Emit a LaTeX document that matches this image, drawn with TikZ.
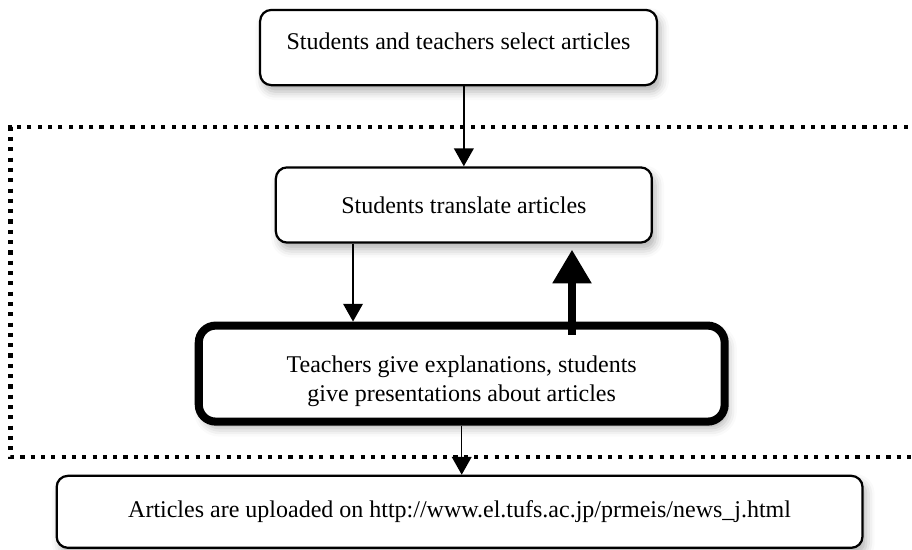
\documentclass[tikz,border=0pt]{standalone}
\usepackage{fontspec}
\setmainfont{Liberation Serif}
\usetikzlibrary{arrows.meta, positioning, shadows.blur}
\tikzstyle{stage} = [rectangle, rounded corners=6pt, draw=black, line width=1.2pt, fill=white, align=center, font=\fontsize{12.8}{15}\selectfont, blur shadow={shadow xshift=2pt, shadow yshift=-3.5pt, shadow blur radius=4.5pt, shadow opacity=30}]
\tikzstyle{keystage} = [stage, rounded corners=9pt, line width=4.3pt]
\tikzstyle{flow} = [line width=0.8pt, -{Triangle[width=10.5pt,length=9.5pt]}]
\tikzstyle{bigflow} = [line width=4.7pt, -{Triangle[width=19.7pt,length=18pt]}]
\tikzstyle{frame} = [line width=2.2pt, dash pattern=on 2.2pt off 3.3pt]

\begin{document}
\begin{tikzpicture}
      \useasboundingbox (0,0) rectangle (17.1,-10.294);
      % loop region
      \draw [frame] (17.6,-2.381) -- (0.197,-2.381) -- (0.197,-8.569) -- (17.6,-8.569);

      \node (select) [stage, minimum width=7.44cm, minimum height=1.41cm, text depth=7pt] at (8.597,-0.891) {Students and teachers select articles};
      \node (translate) [stage, below=1.50cm of select, xshift=0.10cm, minimum width=7.05cm, minimum height=1.41cm] {Students translate articles};
      \node (explain) [keystage, below=1.46cm of translate, xshift=-0.04cm, minimum width=9.86cm, minimum height=1.80cm] {\rule{0pt}{17pt}Teachers give explanations, students\\give presentations about articles};
      \node (upload) [stage, below=0.92cm of explain, xshift=-0.04cm, minimum width=15.11cm, minimum height=1.35cm] {Articles are uploaded on http://www.el.tufs.ac.jp/prmeis/news\_j.html};

      \coordinate (dnx) at (6.619,0);
      \coordinate (upx) at (10.725,0);
      \draw [flow] (select.south -| translate.north) -- (translate.north);
      \draw [flow] (translate.south -| dnx) -- (explain.north -| dnx);
      \draw [bigflow] ([yshift=-0.244cm]explain.north -| upx) -- ([yshift=-0.11cm]translate.south -| upx);
      \draw [flow] (explain.south) -- (explain.south |- upload.north);
    \end{tikzpicture}
\end{document}
